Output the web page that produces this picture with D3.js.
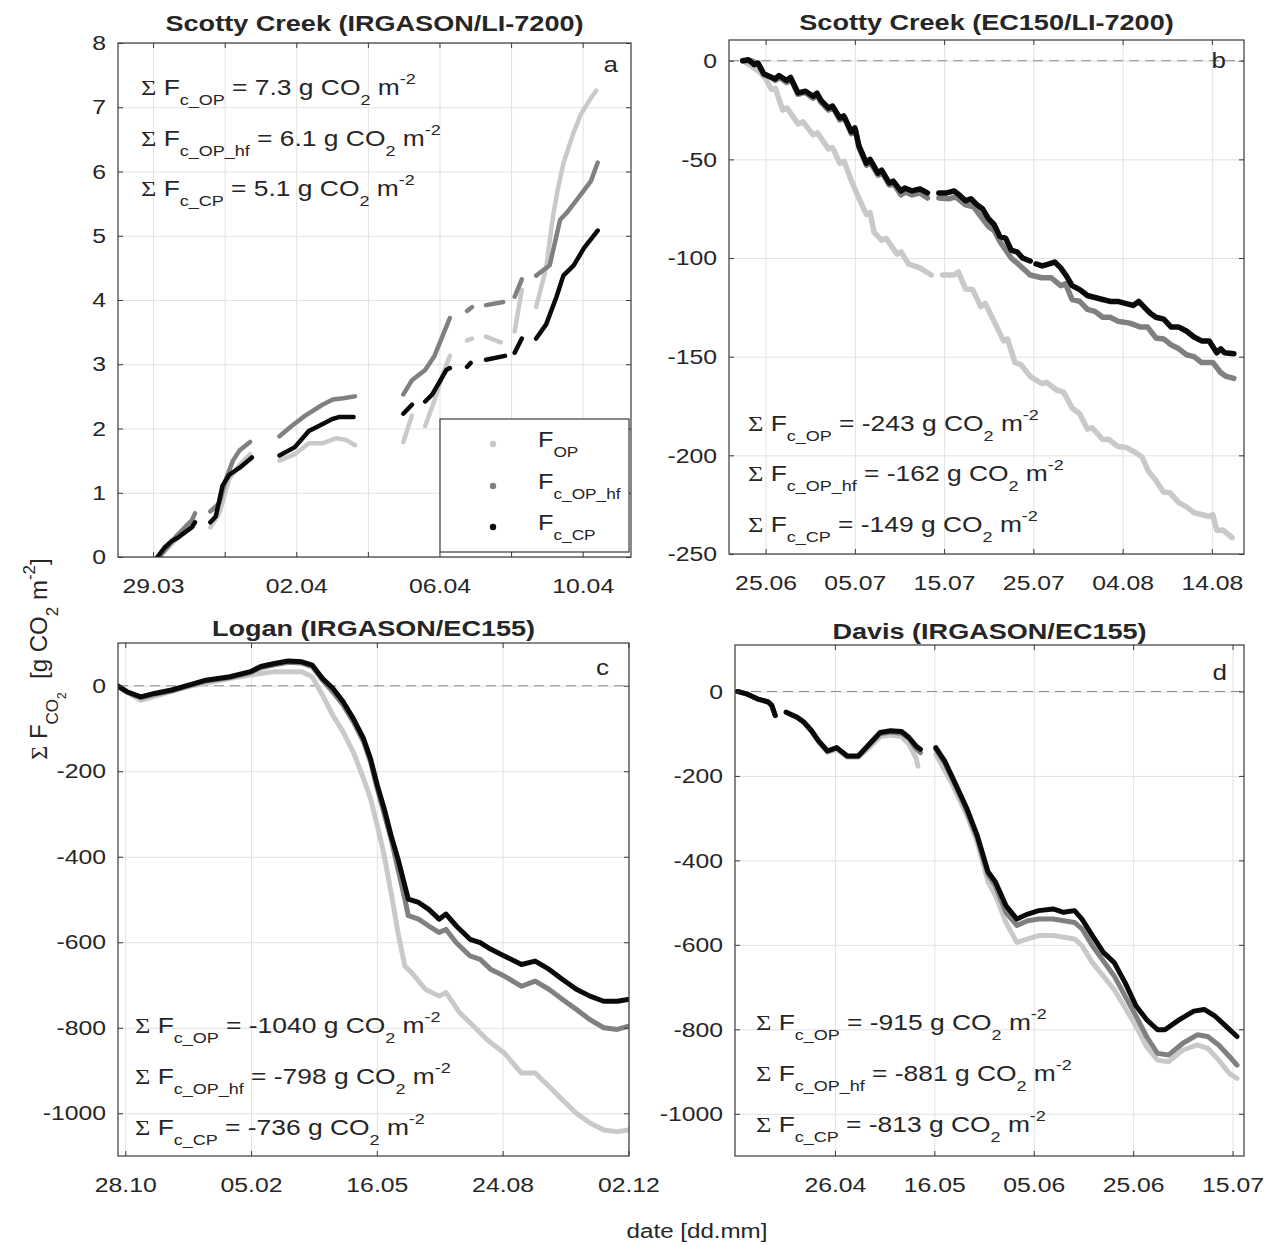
<!DOCTYPE html>
<html>
<head>
<meta charset="utf-8">
<script src="https://cdn.jsdelivr.net/npm/d3@7"></script>
<style>
  body { margin: 0; background: #fff; }
  text { font-family: "Liberation Sans", Arial, Helvetica, sans-serif; fill: #262626; white-space: pre; }
</style>
</head>
<body>
<svg id="fig" width="1270" height="1245"></svg>
<script>
// ---- data: [days since first labelled tick, cumulative flux], null = gap ----
const aStart = new Date(Date.UTC(2016, 2, 29));
const aOP = [[0.17,0],[0.69,0.30],[1.08,0.50],[1.17,0.55],[1.4,null],
  [1.6,0.46],[1.85,0.68],[2.13,1.22],[2.42,1.44],[2.71,1.60],[3.1,null],
  [3.53,1.50],[3.96,1.60],[4.35,1.77],[4.73,1.77],[5.12,1.85],[5.4,1.82],[5.64,1.74],[6.3,null],
  [6.99,1.79],[7.23,2.20],[7.4,null],[7.6,2.04],[7.85,2.42],[8.1,2.85],[8.29,3.13],[8.5,null],
  [8.77,3.37],[8.91,3.40],[9.1,null],[9.3,3.43],[9.71,3.34],[9.9,null],[10.1,3.51],[10.3,4.16],[10.5,null],
  [10.7,3.89],[10.98,4.50],[11.17,5.30],[11.31,5.74],[11.46,6.12],[11.71,6.55],[11.94,6.88],[12.18,7.10],[12.38,7.26]];
const aHF = [[0.17,0],[0.69,0.35],[1.08,0.57],[1.17,0.68],[1.4,null],
  [1.6,0.71],[1.85,0.84],[2.04,1.22],[2.23,1.50],[2.42,1.66],[2.71,1.79],[3.1,null],
  [3.53,1.88],[3.87,2.04],[4.25,2.20],[4.73,2.37],[5.02,2.45],[5.31,2.47],[5.64,2.50],[6.3,null],
  [6.99,2.53],[7.23,2.75],[7.6,2.91],[7.86,3.13],[8.29,3.72],[8.5,null],
  [8.77,3.83],[8.91,3.89],[9.1,null],[9.3,3.92],[9.78,3.97],[9.9,null],[10.1,4.05],[10.3,4.32],[10.5,null],
  [10.7,4.38],[11.08,4.54],[11.37,5.25],[11.56,5.36],[11.85,5.57],[12.23,5.85],[12.42,6.14]];
const aCP = [[0.12,0],[0.31,0.14],[0.5,0.24],[0.69,0.30],[0.88,0.38],[1.08,0.46],[1.17,0.54],[1.4,null],
  [1.6,0.54],[1.75,0.63],[1.94,1.11],[2.13,1.28],[2.42,1.39],[2.76,1.55],[3.1,null],
  [3.53,1.58],[3.96,1.71],[4.35,1.96],[4.63,2.04],[5.02,2.15],[5.21,2.18],[5.4,2.18],[5.6,2.18],[6.3,null],
  [6.99,2.23],[7.23,2.37],[7.4,null],[7.6,2.42],[7.8,2.53],[8.19,2.91],[8.29,2.94],[8.5,null],
  [8.77,2.96],[8.87,3.02],[9.1,null],[9.3,3.07],[9.83,3.13],[9.95,null],[10.1,3.18],[10.3,3.40],[10.5,null],
  [10.7,3.40],[10.98,3.62],[11.27,4.05],[11.46,4.38],[11.75,4.54],[12.04,4.81],[12.42,5.08]];
const aSums = [7.3, 6.1, 5.1];

const bStart = new Date(Date.UTC(2016, 5, 25));
const bOP = [[-2.56,0],[-1.5,-3],[-0.64,-5.7],[0,-9],[0.64,-14.5],[1.1,-14],[1.92,-25],[2.4,-24],[3.63,-32],
  [4.2,-31],[5.33,-37.6],[5.8,-36.5],[7.04,-44.7],[7.5,-44],[8.32,-52],[8.8,-51],[9.6,-60.7],[10.45,-69.6],
  [11.3,-78],[11.7,-77],[12.16,-87],[13.01,-91],[13.5,-90],[14.72,-98],[15.2,-97],[16.0,-103],[17.28,-105],
  [18.56,-108.6],[18.9,null],[19.84,-108.6],[21.12,-108.6],[21.6,-107],[22.4,-115.7],[23.2,-116],[24.1,-124.6],
  [24.6,-123],[25.38,-130],[26.66,-142],[27.1,-141],[27.94,-153],[28.6,-154],[29.65,-160],[30.93,-163.6],
  [31.5,-163],[32.64,-167],[33.4,-168],[34.34,-176],[35.2,-179],[36.05,-186.7],[36.6,-186],[37.76,-192],
  [38.5,-192],[39.46,-195.5],[40.4,-196],[41.6,-199],[42.2,-201],[42.88,-208],[43.6,-212],[44.58,-218.6],
  [45.3,-219],[46.29,-224],[47.1,-226],[48.0,-229],[49.7,-231],[50.1,-230],[50.55,-238],[51.3,-238],[52.26,-241.7]];
const bHF = [[-2.56,0],[-1.6,0],[-0.85,-1.5],[-0.21,-7],[0.5,-8],[1.07,-10],[1.6,-8.5],[2.35,-11],[2.9,-10],
  [3.63,-17],[4.4,-16],[5.33,-19],[5.8,-17.5],[6.19,-21],[7.04,-25],[7.6,-24],[8.32,-30],[8.9,-29],[9.6,-37],
  [10.1,-35.5],[10.45,-44],[11.3,-53],[11.8,-52],[12.59,-58],[13.1,-57],[13.87,-63],[14.4,-62.5],[15.15,-68],
  [15.7,-66.5],[16.42,-68],[17.3,-67],[18.13,-69.6],[18.6,null],[19.41,-69.6],[20.5,-70],[21.3,-69],[22.4,-73],
  [23.3,-74],[24.96,-84],[25.6,-86],[26.3,-92],[27.52,-100],[28.3,-103],[29.65,-108.6],[30.93,-110],[32.0,-110],
  [33.06,-114],[33.6,-113],[34.34,-121],[35.2,-122],[36.05,-126],[36.9,-127],[37.76,-130],[38.6,-130],
  [39.46,-132],[40.8,-133],[42.02,-135],[42.8,-135],[43.73,-140.5],[44.6,-141],[45.44,-144],[46.3,-146],
  [47.14,-149],[48.0,-150],[48.85,-153],[50.13,-153],[50.98,-158],[51.6,-160],[52.47,-161]];
const bCP = [[-2.56,0],[-1.92,0.5],[-1.28,-2],[-0.85,-1.2],[-0.21,-6.6],[0.43,-8],[1.07,-9.2],[1.5,-7.5],
  [2.35,-10],[2.8,-8.5],[3.63,-16.3],[4.48,-15.5],[5.33,-18],[5.76,-16.5],[6.19,-20],[7.04,-24],[7.5,-23],
  [8.32,-29],[8.75,-28],[9.6,-36],[10.0,-34],[10.45,-43],[11.3,-52],[11.7,-50],[12.59,-57],[13.0,-55.5],
  [13.87,-62],[14.3,-61],[15.15,-66],[15.6,-64.5],[16.42,-66],[17.3,-65],[18.13,-67],[18.6,null],[19.41,-67],
  [20.3,-67],[21.12,-66],[21.7,-68],[22.4,-71],[23.0,-70],[23.68,-73],[24.3,-75],[24.96,-80],[25.6,-83],
  [26.24,-89],[26.9,-90],[27.52,-96],[28.2,-97],[28.8,-100],[29.65,-101.5],[29.95,null],[30.29,-103],
  [31.0,-104],[31.78,-103],[32.4,-102],[33.06,-105],[33.7,-109],[34.34,-114],[35.2,-116],[36.05,-119],
  [36.9,-120],[37.76,-121],[38.6,-122],[39.46,-122],[40.3,-123],[41.17,-124],[41.8,-122],[42.45,-125],
  [43.1,-128],[43.73,-130],[44.6,-131],[45.44,-135],[46.3,-135],[47.14,-137],[48.0,-140],[48.85,-142],
  [49.7,-142],[50.55,-148],[51.0,-146],[51.41,-148],[52.47,-148.5]];
const bSums = [-243, -162, -149];

const cStart = new Date(Date.UTC(2016, 9, 28));
const cOP = [[-6.3,-2],[12.3,-34],[23.2,-25],[50.4,-2],[83.2,17],[99.5,25],[118.6,33],[140.4,33],[148.6,21],
  [156.8,-22],[165,-69],[173.2,-108],[181.3,-155],[189.5,-217.5],[195,-264],[200.4,-327],[205.9,-397.5],
  [211.3,-483.6],[216.8,-577],[222.3,-656],[227.7,-671],[238.6,-710],[249.5,-726],[255,-718],[265.9,-765],
  [276.8,-796],[287.7,-828],[301.3,-859],[315,-906],[325.9,-906],[336.8,-937],[347.7,-969],[358.6,-1000],
  [369.5,-1023],[380.4,-1039],[391.3,-1043],[399.5,-1039]];
const cHF = [[-6.3,0],[1.4,-15],[12.3,-28],[23.2,-20],[36.8,-12],[50.4,0],[64.1,11],[83.2,19],[99.5,31],
  [107.7,42],[118.6,49],[129.5,55],[140.4,53],[148.6,45],[156.8,13],[165,-14],[173.2,-45],[181.3,-84],
  [189.5,-131],[195,-178],[200.4,-241],[211.3,-358],[222.3,-499],[225,-538],[233.2,-546],[241.3,-562],
  [249.5,-577],[255,-570],[263.2,-601],[274.1,-632],[282.2,-640],[290.4,-663],[301.3,-679],[315,-703],
  [325.9,-691],[336.8,-710],[347.7,-734],[358.6,-757],[369.5,-781],[380.4,-800],[391.3,-804],[399.5,-797]];
const cCP = [[-6.3,0],[1.4,-14],[12.3,-26],[23.2,-18],[36.8,-10],[50.4,1.6],[64.1,13],[83.2,21],[99.5,33],
  [107.7,45],[118.6,52],[129.5,58],[140.4,56],[148.6,48.5],[156.8,17],[165,-6],[173.2,-37.6],[181.3,-77],
  [189.5,-124],[195,-171],[200.4,-233],[205.9,-288],[211.3,-350],[216.8,-405],[222.3,-468],[225,-499],
  [233.2,-507],[241.3,-523],[249.5,-546],[255,-534],[263.2,-562],[274.1,-593],[282.2,-601],[290.4,-616],
  [301.3,-632],[315,-652],[325.9,-644],[336.8,-663],[347.7,-687],[358.6,-710],[369.5,-726],[380.4,-738],
  [391.3,-738],[399.5,-734]];
const cSums = [-1040, -798, -736];

const dStart = new Date(Date.UTC(2017, 3, 26));
const dOP = [[-19.6,0],[-17.8,-6],[-15.6,-18.5],[-13.4,-26],[-12.7,-34],[-12,-58],[-11.2,null],[-9.8,-50],
  [-7.6,-62],[-6.2,-75],[-4.7,-95],[-3.3,-119],[-1.5,-144],[0.36,-137],[2.5,-156],[4.7,-156],[6.9,-133],
  [9.1,-107],[11.2,-103],[13.4,-107],[14.9,-125],[16.3,-157],[16.7,-177],[18.5,null],[20.3,-149],[23.6,-220],
  [26.5,-292],[28.6,-356],[30.8,-451],[32.3,-483],[34.4,-547],[36.6,-594],[38.8,-586],[41,-578],[43.9,-578],
  [48.2,-586],[49.7,-602],[51.8,-642],[56.2,-706],[60.6,-793],[62.7,-841],[64.9,-873],[67.1,-877],[70,-849],
  [72.9,-837],[75,-845],[77.2,-873],[79.4,-905],[80.9,-916]];
const dHF = [[-19.6,0],[-17.8,-5.6],[-15.6,-17.5],[-13.4,-25],[-12.7,-33],[-12,-57],[-11.2,null],[-9.8,-49],
  [-7.6,-61],[-6.2,-73],[-4.7,-93],[-3.3,-117],[-1.5,-141],[0.36,-134],[2.5,-154],[4.7,-154],[6.9,-127],
  [9.1,-100],[11.2,-96],[13.4,-99],[14.9,-111],[16.3,-135],[17.2,-145],[18.5,null],[20.3,-137],[22.1,-170],
  [24.3,-225],[26.5,-282],[28.6,-346],[30.8,-434],[32.3,-460],[34.4,-523],[36.6,-554],[38.8,-543],[41,-539],
  [43.9,-539],[48.2,-547],[49.7,-562],[51.8,-602],[56.2,-674],[60.6,-769],[62.7,-817],[64.9,-857],[67.1,-861],
  [70,-833],[72.9,-813],[75,-817],[77.2,-837],[79.4,-865],[80.9,-885]];
const dCP = [[-19.6,0],[-17.8,-5.6],[-15.6,-17.5],[-13.4,-25],[-12.7,-33],[-12,-57],[-11.2,null],[-9.8,-49],
  [-7.6,-61],[-6.2,-73],[-4.7,-93],[-3.3,-117],[-1.5,-141],[0.36,-133],[2.5,-153],[4.7,-153],[6.9,-125],
  [9.1,-97],[11.2,-93],[13.4,-95],[14.9,-109],[16.3,-129],[17.2,-137],[18.5,null],[20.3,-133],[22.1,-165],
  [24.3,-220],[26.5,-276],[28.6,-340],[30.8,-427],[32.3,-451],[34.4,-507],[36.6,-539],[38.8,-527],[41,-519],
  [43.9,-515],[46,-523],[48.2,-519],[49.7,-539],[51.8,-578],[54,-618],[56.2,-642],[58.4,-690],[60.6,-745],
  [62.7,-777],[64.9,-801],[66.4,-801],[69.3,-777],[72.2,-757],[74.3,-753],[76.5,-769],[78.7,-793],[80.9,-817]];
const dSums = [-915, -881, -813];

const sumNames = ["c_OP", "c_OP_hf", "c_CP"];
const legendNames = ["OP", "c_OP_hf", "c_CP"];
const seriesColors = ["#c9c9c9", "#808080", "#0a0a0a"];

// ---- layout ----
const panels = [
  { key: "a", title: "Scotty Creek (IRGASON/LI-7200)", start: aStart, days: [-0.98, 13.35],
    tickDays: d3.range(0, 13, 2), labelStep: 4, yDom: [0, 8], yTicks: d3.range(0, 9),
    series: [aOP, aHF, aCP], sums: aSums, zero: false, box: [118, 43, 631, 557],
    note: [141, [95, 146, 196]], letter: [618, 72], titleY: 31, lw: 4.5 },
  { key: "b", title: "Scotty Creek (EC150/LI-7200)", start: bStart, days: [-4.1, 53.6],
    tickDays: d3.range(0, 51, 10), labelStep: 10, yDom: [-250, 10.5], yTicks: d3.range(-250, 1, 50),
    series: [bOP, bHF, bCP], sums: bSums, zero: true, box: [729, 40, 1244, 554],
    note: [748, [431, 481, 532]], letter: [1226, 68], titleY: 30, lw: 5.5 },
  { key: "c", title: "Logan (IRGASON/EC155)", start: cStart, days: [-5.8, 400.5],
    tickDays: d3.range(0, 401, 100), labelStep: 100, yDom: [-1100, 100], yTicks: d3.range(-1000, 1, 200),
    series: [cOP, cHF, cCP], sums: cSums, zero: true, box: [118, 643, 629, 1156],
    note: [135, [1033, 1084, 1135]], letter: [609, 675], titleY: 636, lw: 5 },
  { key: "d", title: "Davis (IRGASON/EC155)", start: dStart, days: [-20.1, 82.3],
    tickDays: d3.range(0, 81, 20), labelStep: 20, yDom: [-1100, 110], yTicks: d3.range(-1000, 1, 200),
    series: [dOP, dHF, dCP], sums: dSums, zero: true, box: [735, 645, 1244, 1156],
    note: [756, [1030, 1081, 1132]], letter: [1227, 680], titleY: 639, lw: 5 }
];

const SX = 1.18;          // the reference text is slightly wide
const gridColor = "#e2e2e2";
const boxColor = "#3a3a3a";
const svg = d3.select("#fig");
const fmt = d3.utcFormat("%d.%m");
const toDate = (start, t) => new Date(start.getTime() + t * 864e5);

function richText(parent, x, y, parts, opt) {
  const size = opt.size, small = Math.round(size * 0.7);
  const t = parent.append("text")
    .attr("transform", `translate(${x},${y})${opt.rotate ? " rotate(-90)" : ""} scale(${opt.sx},1)`)
    .attr("font-size", size)
    .attr("text-anchor", opt.anchor || "start");
  let cur = 0;
  parts.forEach(([str, kind]) => {
    let off = 0, fs = size;
    if (kind === "sub") { off = size * 0.45; fs = small; }
    if (kind === "sup") { off = -size * 0.5; fs = small; }
    if (kind === "subsub") { off = size * 0.8; fs = Math.round(size * 0.5); }
    const ts = t.append("tspan").attr("dy", off - cur).attr("font-size", fs).text(str);
    if (kind === "serif") ts.attr("font-family", "'Liberation Serif', 'Times New Roman', serif");
    cur = off;
  });
  return t;
}

function drawPanel(p) {
  const [l, t, r, b] = p.box;
  const g = svg.append("g");
  const x = d3.scaleUtc().domain(p.days.map(d => toDate(p.start, d))).range([l, r]);
  const y = d3.scaleLinear().domain(p.yDom).range([b, t]);
  const tickDates = p.tickDays.map(d => toDate(p.start, d));

  // grid
  g.append("g").attr("transform", `translate(0,${b})`)
    .call(d3.axisBottom(x).tickValues(tickDates).tickSize(-(b - t)).tickFormat(""))
    .call(s => s.select(".domain").remove())
    .selectAll("line").attr("stroke", gridColor);
  g.append("g").attr("transform", `translate(${l},0)`)
    .call(d3.axisLeft(y).tickValues(p.yTicks).tickSize(-(r - l)).tickFormat(""))
    .call(s => s.select(".domain").remove())
    .selectAll("line").attr("stroke", gridColor);

  if (p.zero) {
    g.append("line").attr("x1", l).attr("x2", r).attr("y1", y(0)).attr("y2", y(0))
      .attr("stroke", "#8c8c8c").attr("stroke-width", 1).attr("stroke-dasharray", "10,6");
  }

  // series
  const clipId = "clip-" + p.key;
  svg.append("clipPath").attr("id", clipId).append("rect")
    .attr("x", l).attr("y", t).attr("width", r - l).attr("height", b - t);
  const line = d3.line()
    .defined(d => d[1] !== null)
    .x(d => x(toDate(p.start, d[0])))
    .y(d => y(d[1]));
  const sg = g.append("g").attr("clip-path", `url(#${clipId})`);
  p.series.forEach((s, i) => {
    sg.append("path").datum(s).attr("d", line)
      .attr("fill", "none").attr("stroke", seriesColors[i])
      .attr("stroke-width", p.lw).attr("stroke-linejoin", "round").attr("stroke-linecap", "round");
  });

  // box + inward ticks
  g.append("rect").attr("x", l).attr("y", t).attr("width", r - l).attr("height", b - t)
    .attr("fill", "none").attr("stroke", boxColor).attr("stroke-width", 1.2);

  const styleTicks = s => {
    s.select(".domain").remove();
    s.selectAll("line").attr("stroke", boxColor);
    s.selectAll("text").attr("font-size", 21).attr("fill", "#262626")
      .attr("font-family", "'Liberation Sans', Arial, Helvetica, sans-serif")
      .attr("transform", `scale(${SX},1)`);
  };
  g.append("g").attr("transform", `translate(0,${b})`)
    .call(d3.axisBottom(x).tickValues(tickDates).tickSizeInner(-5).tickSizeOuter(0).tickPadding(21)
      .tickFormat((d, i) => (p.tickDays[i] % p.labelStep === 0 ? fmt(d) : "")))
    .call(styleTicks);
  g.append("g").attr("transform", `translate(0,${t})`)
    .call(d3.axisTop(x).tickValues(tickDates).tickSizeInner(-5).tickSizeOuter(0).tickFormat(""))
    .call(styleTicks);
  g.append("g").attr("transform", `translate(${l},0)`)
    .call(d3.axisLeft(y).tickValues(p.yTicks).tickSizeInner(-5).tickSizeOuter(0).tickPadding(12 / SX)
      .tickFormat(d => String(d)))
    .call(styleTicks);
  g.append("g").attr("transform", `translate(${r},0)`)
    .call(d3.axisRight(y).tickValues(p.yTicks).tickSizeInner(-5).tickSizeOuter(0).tickFormat(""))
    .call(styleTicks);

  // title and panel letter
  g.append("text").attr("transform", `translate(${(l + r) / 2},${p.titleY}) scale(1.23,1)`)
    .attr("text-anchor", "middle").attr("font-size", 22).attr("font-weight", "bold")
    .attr("fill", "#000").text(p.title);
  g.append("text").attr("transform", `translate(${p.letter[0]},${p.letter[1]}) scale(${SX},1)`)
    .attr("text-anchor", "end").attr("font-size", 22).text(p.key);

  // cumulative sums
  p.sums.forEach((v, i) => {
    richText(g, p.note[0], p.note[1][i], [
      ["\u03A3", "serif"], [" F"], [sumNames[i], "sub"], [` = ${v} g CO`], ["2", "sub"], [" m"], ["-2", "sup"]
    ], { size: 22, sx: 1.2 });
  });
}

panels.forEach(drawPanel);

// legend in panel a
const lg = svg.append("g");
lg.append("rect").attr("x", 440).attr("y", 419).attr("width", 189).attr("height", 133)
  .attr("fill", "#fff").attr("stroke", boxColor).attr("stroke-width", 1.2);
legendNames.forEach((n, i) => {
  const cy = [444, 486, 527][i];
  lg.append("circle").attr("cx", 493).attr("cy", cy).attr("r", 3.2).attr("fill", seriesColors[i]);
  richText(lg, 538, cy + 3, [["F"], [n, "sub"]], { size: 22, sx: 1.15 });
});

// shared axis labels
richText(svg, 47, 659, [
  ["\u03A3", "serif"], [" F"], ["CO", "sub"], ["2", "subsub"], ["  [g CO"], ["2", "sub"], [" m"], ["-2", "sup"], ["]"]
], { size: 24, sx: 1, rotate: true, anchor: "middle" });
svg.append("text").attr("transform", "translate(697,1238) scale(1.15,1)")
  .attr("text-anchor", "middle").attr("font-size", 21).text("date [dd.mm]");
</script>
</body>
</html>
